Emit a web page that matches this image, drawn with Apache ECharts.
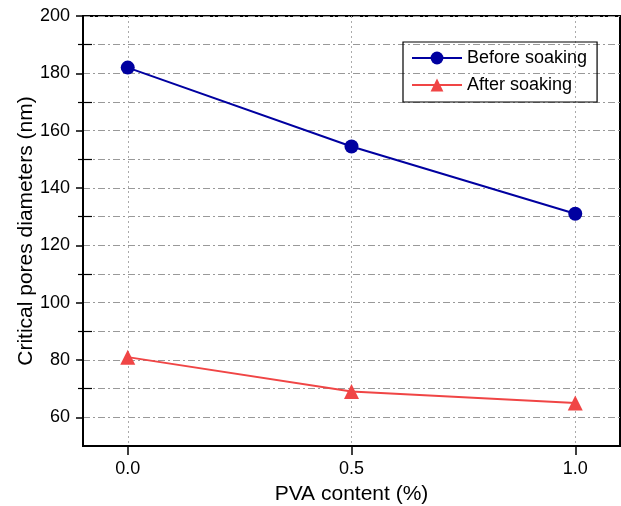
<!DOCTYPE html>
<html>
<head>
<meta charset="UTF-8">
<title>Critical pores diameters</title>
<script src="https://cdn.jsdelivr.net/npm/echarts@6/dist/echarts.min.js"></script>
<style>
  html, body { margin: 0; padding: 0; background: #fff; }
  #chart { width: 621px; height: 506px; }
</style>
</head>
<body>
<div id="chart"></div>
<script>
// PVA content (%)
var pvaContent = [0.0, 0.5, 1.0];
// critical pore diameters (nm)
var beforeSoaking = [182, 154.5, 131];
var afterSoaking = [81, 69, 65];
var xTicks = [0.0, 0.5, 1.0];
var yTicks = [60, 80, 100, 120, 140, 160, 180, 200];
var yMinorTicks = [70, 90, 110, 130, 150, 170, 190];

function pairs(xs, ys) {
  var out = [];
  for (var i = 0; i < xs.length; i++) out.push([xs[i], ys[i]]);
  return out;
}

var chart = echarts.init(document.getElementById('chart'));
var font = 'Liberation Sans, Arial, sans-serif';
var gridDash = { color: '#999', type: [7, 3, 2, 3], width: 1.2 };

// extra y axes only carry the minor tick marks (and minor grid lines)
function minorAxis(inside, len, grid) {
  return {
    type: 'value', position: 'left', min: 50, max: 200, interval: 10,
    axisLine: { show: false, onZero: false },
    axisTick: { inside: inside, length: len, customValues: yMinorTicks,
      lineStyle: { color: '#000', width: 1.2 } },
    axisLabel: { show: false },
    splitLine: { show: grid, lineStyle: gridDash }
  };
}

var option = {
  animation: false,
  backgroundColor: '#fff',
  grid: {
    left: 83, right: 1, top: 16, bottom: 60,
    outerBoundsMode: 'none',
    show: true, borderColor: '#000', borderWidth: 2,
    backgroundColor: 'transparent'
  },
  legend: {
    left: 403, top: 42,
    orient: 'vertical',
    itemWidth: 50, itemHeight: 16, itemGap: 9,
    padding: [7, 10, 8, 8],
    borderColor: '#000', borderWidth: 1.2,
    textStyle: { fontFamily: font, fontSize: 18, color: '#000' },
    data: ['Before soaking', 'After soaking']
  },
  xAxis: {
    type: 'value',
    min: -0.1, max: 1.1,
    interval: 0.5,
    name: 'PVA content (%)',
    nameLocation: 'middle',
    nameMoveOverlap: false,
    nameGap: 38,
    nameTextStyle: { fontFamily: font, fontSize: 21, color: '#000', verticalAlign: 'top' },
    axisLine: { onZero: false, lineStyle: { color: '#000', width: 2 } },
    axisTick: { length: 9, lineStyle: { color: '#000', width: 1.5 },
      customValues: xTicks },
    axisLabel: { fontFamily: font, fontSize: 18, color: '#000', margin: 14,
      customValues: xTicks,
      formatter: function (v) { return v.toFixed(1); } },
    splitLine: { show: true, lineStyle: { color: '#aaa', type: [2, 3], width: 1 } }
  },
  yAxis: [
    {
      type: 'value',
      min: 50, max: 200,
      interval: 10,
      name: 'Critical pores diameters (nm)',
      nameLocation: 'middle',
      nameMoveOverlap: false,
      nameGap: 46,
      nameTextStyle: { fontFamily: font, fontSize: 21, color: '#000' },
      axisLine: { onZero: false, lineStyle: { color: '#000', width: 2 } },
      axisTick: { length: 7, customValues: yTicks, lineStyle: { color: '#000', width: 1.5 } },
      axisLabel: { fontFamily: font, fontSize: 18, color: '#000', margin: 13,
        customValues: yTicks },
      splitLine: { show: true, lineStyle: gridDash }
    },
    minorAxis(false, 5, true),
    minorAxis(true, 9, false)
  ],
  series: [
    {
      name: 'Before soaking',
      type: 'line',
      data: pairs(pvaContent, beforeSoaking),
      symbol: 'circle', symbolSize: 14,
      lineStyle: { color: '#0000a0', width: 2 },
      itemStyle: { color: '#0000a0' }
    },
    {
      name: 'After soaking',
      type: 'line',
      data: pairs(pvaContent, afterSoaking),
      symbol: 'triangle', symbolSize: 15,
      lineStyle: { color: '#f04545', width: 2 },
      itemStyle: { color: '#f04545' }
    }
  ]
};

chart.setOption(option);
</script>
</body>
</html>
